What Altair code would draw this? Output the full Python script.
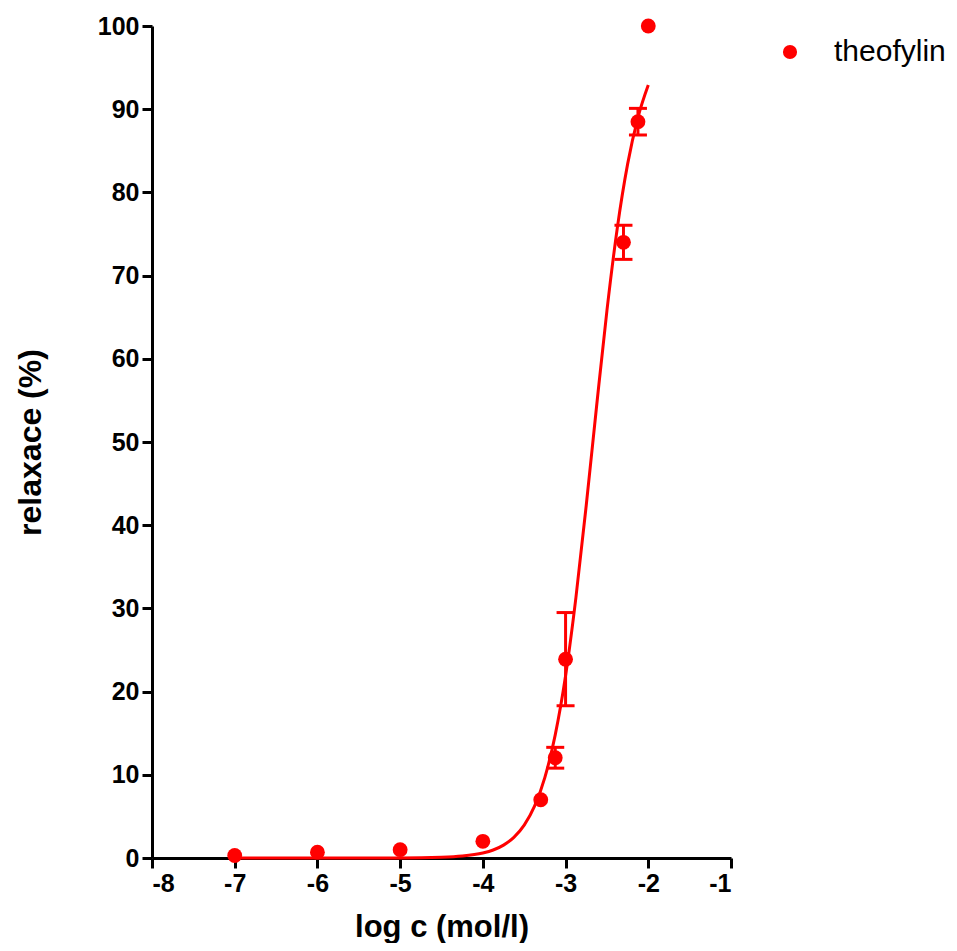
import altair as alt
import pandas as pd

# measured points (log concentration, relaxation %, SEM)
log_c = [-7.0, -6.0, -5.0, -4.0, -3.3, -3.125, -3.0, -2.3, -2.125, -2.0]
relax = [0.3, 0.7, 1.0, 2.0, 7.0, 12.05, 23.9, 74.0, 88.5, 100.0]
sem = [0.0, 0.0, 0.0, 0.0, 0.0, 1.25, 5.6, 2.05, 1.6, 0.0]
series_name = "theofylin"

# fitted curve
curve_x = [-7.0, -6.0, -5.0, -4.5, -4.25, -4.0, -3.875, -3.75, -3.625, -3.5, -3.375,
           -3.25, -3.125, -3.0, -2.875, -2.75, -2.625, -2.5, -2.375, -2.25, -2.125, -2.0]
curve_y = [0.0, 0.0, 0.01, 0.09, 0.23, 0.6, 0.96, 1.55, 2.48, 3.95, 6.23,
           9.7, 14.8, 21.9, 31.3, 42.4, 54.3, 65.8, 75.7, 83.4, 89.0, 92.9]

x_ticks = [-8, -7, -6, -5, -4, -3, -2, -1]
y_ticks = [0, 10, 20, 30, 40, 50, 60, 70, 80, 90, 100]

RED = "#FF0000"
FONT = "Liberation Sans"

pts = pd.DataFrame({"x": log_c, "y": relax, "sem": sem, "series": series_name})
err = pts[pts["sem"] > 0].copy()
err["lo"] = err["y"] - err["sem"]
err["hi"] = err["y"] + err["sem"]
caps = pd.DataFrame({
    "x": list(err["x"]) + list(err["x"]),
    "y": list(err["lo"]) + list(err["hi"]),
})
curve = pd.DataFrame({"x": curve_x, "y": curve_y})

xscale = alt.Scale(domain=[-8, -1], nice=False, zero=False)
yscale = alt.Scale(domain=[0, 100], nice=False, zero=False)

xaxis = alt.Axis(values=x_ticks, title="log c (mol/l)", grid=False,
                 labelExpr="datum.value + ''", titlePadding=16, titleFontSize=31)
yaxis = alt.Axis(values=y_ticks, title="relaxace (%)", grid=False, titlePadding=50,
                 titleFontSize=32)

line = alt.Chart(curve).mark_line(color=RED, strokeWidth=3, interpolate="monotone").encode(
    x=alt.X("x:Q", scale=xscale, axis=xaxis),
    y=alt.Y("y:Q", scale=yscale, axis=yaxis),
)

rules = alt.Chart(err).mark_rule(color=RED, strokeWidth=3).encode(
    x=alt.X("x:Q", scale=xscale),
    y=alt.Y("lo:Q", scale=yscale),
    y2="hi:Q",
)

cap_marks = alt.Chart(caps).mark_tick(color=RED, orient="horizontal", size=18, thickness=3, opacity=1).encode(
    x=alt.X("x:Q", scale=xscale),
    y=alt.Y("y:Q", scale=yscale),
)

points = alt.Chart(pts).mark_point(filled=True, size=220, opacity=1, shape="circle").encode(
    x=alt.X("x:Q", scale=xscale),
    y=alt.Y("y:Q", scale=yscale),
    color=alt.Color("series:N", scale=alt.Scale(domain=[series_name], range=[RED]),
                    legend=alt.Legend(title=None, orient="none", legendX=623, legendY=11,
                                      symbolSize=200, symbolType="circle",
                                      labelFontSize=30, labelFont=FONT, labelColor="black",
                                      labelOffset=29, padding=0, symbolStrokeWidth=0)),
)

chart = alt.layer(line, rules, cap_marks, points).properties(
    width=579, height=832,
    padding={"left": 144, "top": 18, "right": 218, "bottom": 85},
    autosize=alt.AutoSizeParams(type="none"),
).configure_view(stroke=None).configure_axis(
    domainColor="black", domainWidth=3, tickColor="black", tickWidth=3, tickSize=10,
    labelFont=FONT, labelFontSize=25, labelFontWeight="bold", labelColor="black",
    labelPadding=3, titleFont=FONT, titleFontWeight="bold",
    titleColor="black",
)

chart.save("out.html", embed_options={"renderer": "svg", "actions": False})
